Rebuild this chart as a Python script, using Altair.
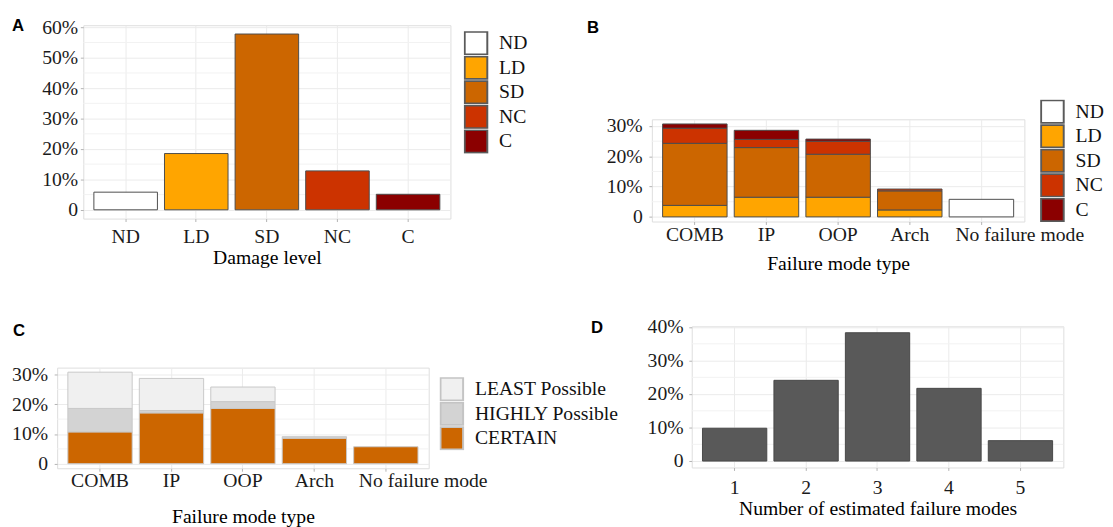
import altair as alt
import pandas as pd

# ---------------- data ----------------
# Panel A: damage level distribution (%)
levels = ["ND", "LD", "SD", "NC", "C"]
level_colors = ["#FFFFFF", "#FFA500", "#CC6600", "#CC3300", "#8B0000"]
a_values = [5.8, 18.5, 57.8, 12.8, 5.1]

# Panel B: failure mode type stacked by damage level (%)
modes = ["COMB", "IP", "OOP", "Arch", "No failure mode"]
b_ND = [0, 0, 0, 0, 5.8]
b_LD = [3.8, 6.5, 6.5, 2.3, 0]
b_SD = [20.5, 16.4, 14.2, 6.3, 0]
b_NC = [5.0, 2.7, 4.3, 0.6, 0]
b_C = [1.4, 3.0, 0.7, 0, 0]

# Panel C: failure mode type stacked by certainty (%)
certainty = ["LEAST Possible", "HIGHLY Possible", "CERTAIN"]
certainty_colors = ["#F0F0F0", "#D3D3D3", "#CC6600"]
c_least = [12.2, 10.8, 4.9, 0, 0]
c_highly = [7.9, 0.8, 2.3, 0.5, 0]
c_certain = [10.7, 17.1, 18.6, 8.6, 5.7]

# Panel D: number of estimated failure modes (%)
n_modes = ["1", "2", "3", "4", "5"]
d_values = [9.8, 24.1, 38.3, 21.7, 6.1]

# axis tick values and minor grid values
a_ticks = [0, 10, 20, 30, 40, 50, 60]
a_minor = [5, 15, 25, 35, 45, 55]
b_ticks = [0, 10, 20, 30]
b_minor = [5, 15, 25]
c_ticks = [0, 10, 20, 30]
c_minor = [5, 15, 25]
d_ticks = [0, 10, 20, 30, 40]
d_minor = [5, 15, 25, 35]

# ---------------- styling helpers ----------------
SERIF = "Liberation Serif"
SANS = "Liberation Sans"
PCT = "datum.value === 0 ? '0' : datum.value + '%'"


def y_axis(letter, ticks, tx, ty, lpad):
    return alt.Axis(values=ticks, labelExpr=PCT, title=letter, titleAngle=0,
                    titleAlign="left", titleBaseline="middle", titleX=tx, titleY=ty,
                    titleFont=SANS, titleFontWeight="bold", titleFontSize=17,
                    titleColor="#000000", labelFont=SERIF, labelFontSize=20,
                    labelColor="#1a1a1a", labelPadding=lpad, tickSize=3,
                    tickColor="#b3b3b3", domain=False, grid=True,
                    gridColor="#ebebeb", gridWidth=1)


def x_axis(title, lpad, tpad, last_offset=0):
    kw = {}
    if last_offset:
        kw["labelOffset"] = {"condition": {"test": "datum.value === 'No failure mode'",
                                           "value": last_offset}, "value": 0}
    return alt.Axis(title=title, labelAngle=0, labelFont=SERIF, labelFontSize=20,
                    labelColor="#1a1a1a", labelPadding=lpad, titleFont=SERIF,
                    titleFontSize=20, titleFontWeight="normal", titleColor="#000000",
                    titlePadding=tpad, tickSize=3, tickColor="#b3b3b3", domain=False,
                    grid=True, gridColor="#ebebeb", bandPosition=0.5, labelLimit=300,
                    **kw)


def legend(lx, ly, stroke):
    return alt.Legend(orient="none", legendX=lx, legendY=ly, title=None,
                      symbolType="square", symbolSize=529, symbolStrokeColor=stroke,
                      symbolStrokeWidth=2, symbolOpacity=1, labelFont=SERIF,
                      labelFontSize=20, labelColor="#111111", labelOffset=11,
                      clipHeight=24.4, rowPadding=0, padding=0)


def band(domain):
    return alt.Scale(domain=domain, paddingInner=0.1, paddingOuter=0.15)


def minor_layer(vals, yscale, axis):
    return alt.Chart(pd.DataFrame({"pct": vals})).mark_rule(
        color="#f2f2f2", strokeWidth=1).encode(y=alt.Y("pct:Q", scale=yscale, axis=axis))


def spacer():
    # invisible 1x1 layout helper
    return alt.Chart(pd.DataFrame({"s": [0]})).mark_rule(opacity=0).encode(
        x=alt.value(0), x2=alt.value(1), y=alt.value(0)
    ).properties(width=1, height=1, view=alt.ViewBackground(stroke="transparent"))


# ---------------- Panel A ----------------
dfA = pd.DataFrame({"level": levels, "pct": a_values})
yA = alt.Scale(domain=[-2.89, 60.69], nice=False, zero=False)
axA = y_axis("A", a_ticks, -73, 0, 2.7)
barsA = alt.Chart(dfA).mark_bar(stroke="#4d4d4d", strokeWidth=1).encode(
    x=alt.X("level:N", sort=levels, scale=band(levels), axis=x_axis("Damage level", 5.1, 1.4)),
    y=alt.Y("pct:Q", scale=yA, axis=axA),
    color=alt.Color("level:N", scale=alt.Scale(domain=levels, range=level_colors),
                    legend=legend(387, 6, "#5a5a5a")),
)
A = alt.layer(minor_layer(a_minor, yA, axA), barsA).properties(width=373.5, height=196.7)

# ---------------- Panel B ----------------
rowsB = []
for i, m in enumerate(modes):
    for j, arr in enumerate([b_ND, b_LD, b_SD, b_NC, b_C]):
        if arr[i] > 0:
            rowsB.append({"mode": m, "level": levels[j], "pct": arr[i], "idx": j})
dfB = pd.DataFrame(rowsB)
yB = alt.Scale(domain=[-1.535, 32.235], nice=False, zero=False)
axB = y_axis("B", b_ticks, -66.5, -93, 6.8)
barsB = alt.Chart(dfB).mark_bar(stroke="#4d4d4d", strokeWidth=1).encode(
    x=alt.X("mode:N", sort=modes, scale=band(modes),
            axis=x_axis("Failure mode type", 0, 10, last_offset=39)),
    y=alt.Y("pct:Q", stack="zero", scale=yB, axis=axB),
    color=alt.Color("level:N", scale=alt.Scale(domain=levels, range=level_colors),
                    legend=legend(395, -20, "#5a5a5a")),
    order=alt.Order("idx:Q", sort="ascending"),
)
B = alt.layer(minor_layer(b_minor, yB, axB), barsB).properties(width=379, height=104)

# ---------------- Panel C ----------------
rowsC = []
for i, m in enumerate(modes):
    for j, (name, arr) in enumerate(zip(["CERTAIN", "HIGHLY Possible", "LEAST Possible"],
                                        [c_certain, c_highly, c_least])):
        if arr[i] > 0:
            rowsC.append({"mode": m, "cert": name, "pct": arr[i], "idx": j})
dfC = pd.DataFrame(rowsC)
yC = alt.Scale(domain=[-1.54, 32.34], nice=False, zero=False)
axC = y_axis("C", c_ticks, -45.4, -37.6, 6.7)
barsC = alt.Chart(dfC).mark_bar(stroke="#c8c8c8", strokeWidth=1).encode(
    x=alt.X("mode:N", sort=modes, scale=band(modes),
            axis=x_axis("Failure mode type", 0, 16.6, last_offset=38)),
    y=alt.Y("pct:Q", stack="zero", scale=yC, axis=axC),
    color=alt.Color("cert:N", scale=alt.Scale(domain=certainty, range=certainty_colors),
                    legend=legend(389, 9.7, "#c4c4c4")),
    order=alt.Order("idx:Q", sort="ascending"),
)
C = alt.layer(minor_layer(c_minor, yC, axC), barsC).properties(width=378, height=102.4)

# ---------------- Panel D ----------------
dfD = pd.DataFrame({"n": n_modes, "pct": d_values})
yD = alt.Scale(domain=[-1.915, 40.215], nice=False, zero=False)
axD = y_axis("D", d_ticks, -103, 1, 5.8)
barsD = alt.Chart(dfD).mark_bar(color="#595959", stroke="#474747", strokeWidth=1).encode(
    x=alt.X("n:N", sort=n_modes, scale=band(n_modes),
            axis=x_axis("Number of estimated failure modes", 7.3, 1.5)),
    y=alt.Y("pct:Q", scale=yD, axis=axD),
)
D = alt.layer(minor_layer(d_minor, yD, axD), barsD).properties(width=378, height=143.6)

# ---------------- layout ----------------
def indep(c):
    return c.resolve_scale(color="independent", x="independent",
                           y="independent").resolve_legend(color="independent")


groupA = indep(alt.hconcat(spacer(), A, spacing=-49.4))
groupB = indep(alt.vconcat(spacer(), B, spacing=-9.3))
groupC = indep(alt.vconcat(spacer(), C, spacing=-8))
row1 = indep(alt.hconcat(groupA, groupB, spacing=58))
row2 = indep(alt.hconcat(groupC, D, spacing=-31.4))
chart = indep(alt.vconcat(row1, row2, spacing=42.3)).properties(
    padding={"left": 3, "top": 3, "right": 0, "bottom": 0}
).configure_view(stroke="#c4c4c4", strokeWidth=1.5).configure(background="white")

chart.save("out.html", embed_options={"renderer": "svg", "actions": False})
